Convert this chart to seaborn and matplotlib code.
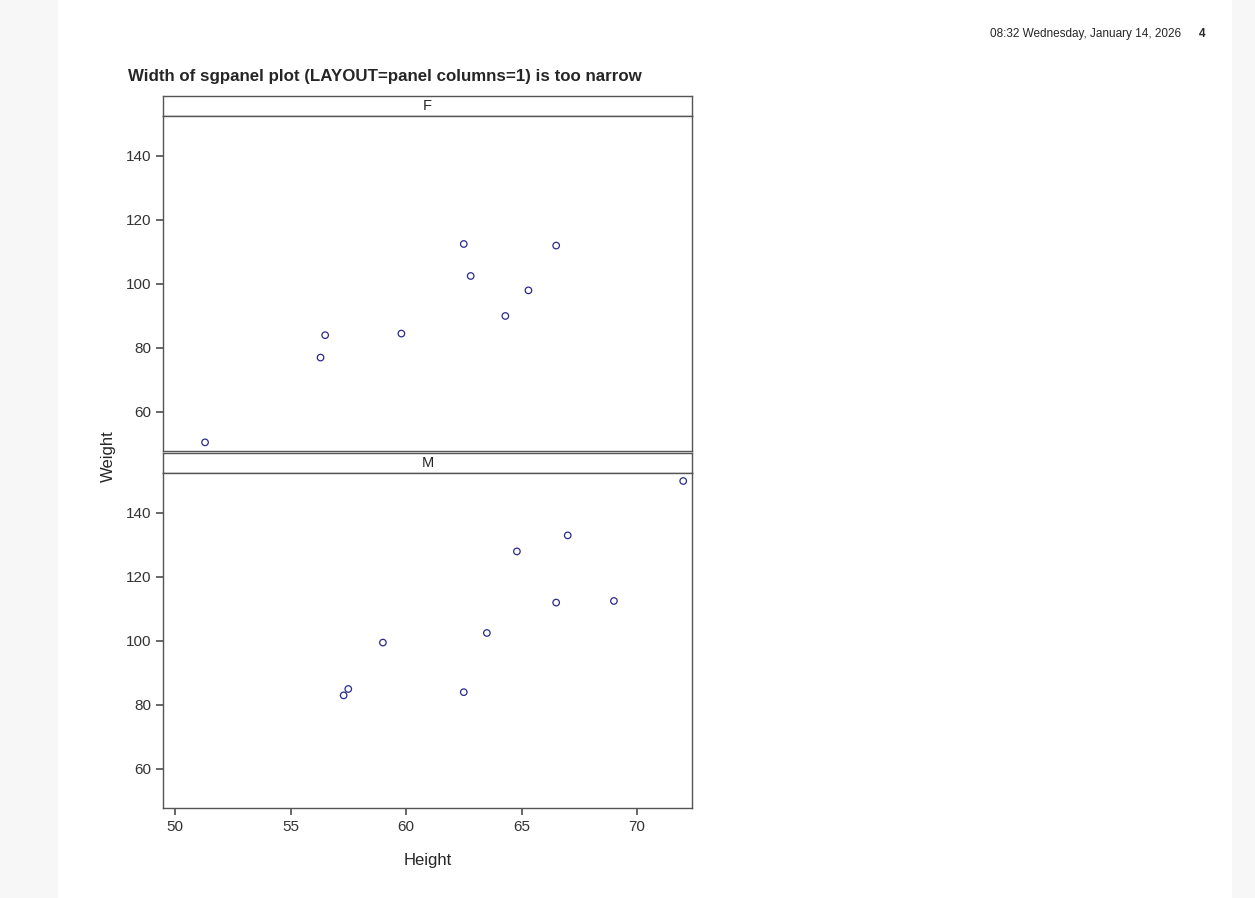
import matplotlib
matplotlib.use("Agg")
import matplotlib.pyplot as plt
import seaborn as sns
import pandas as pd

sex = ["F"]*9 + ["M"]*10
height = [56.5, 65.3, 62.8, 59.8, 62.5, 51.3, 64.3, 56.3, 66.5,
          69.0, 63.5, 57.3, 62.5, 59.0, 72.0, 64.8, 67.0, 57.5, 66.5]
weight = [84.0, 98.0, 102.5, 84.5, 112.5, 50.5, 90.0, 77.0, 112.0,
          112.5, 102.5, 83.0, 84.0, 99.5, 150.0, 128.0, 133.0, 85.0, 112.0]
df = pd.DataFrame({"Sex": sex, "Height": height, "Weight": weight})

sns.set_theme(style="white")
plt.rcParams['font.family'] = ['Liberation Sans', 'DejaVu Sans']
W, H = 1255, 898
fig = plt.figure(figsize=(W/100, H/100), dpi=100)
fig.patch.set_facecolor("#f7f7f7")
page = fig.add_axes([58/W, 0, (1232-58)/W, 1])
page.set_facecolor("white"); page.set_xticks([]); page.set_yticks([])
for s in page.spines.values(): s.set_visible(False)

def fr(x0, y0, x1, y1):
    return [x0/W, 1-y1/H, (x1-x0)/W, (y1-y0)/H]

panels = [("F", 96, 116, 451), ("M", 453, 473, 808)]
for lab, ht, at, ab in panels:
    hax = fig.add_axes(fr(163, ht, 692, at))
    hax.set_xticks([]); hax.set_yticks([])
    for s in hax.spines.values(): s.set_color("#555555"); s.set_linewidth(1)
    hax.text(0.5, 0.5, lab, ha="center", va="center", fontsize=10.5, transform=hax.transAxes)
    ax = fig.add_axes(fr(163, at, 692, ab))
    sns.scatterplot(data=df[df.Sex == lab], x="Height", y="Weight", ax=ax,
                    marker="o", s=22, facecolors="none", edgecolor="#2a2a8c", linewidth=0.9)
    ax.set_xlim(49.48, 72.38); ax.set_ylim(47.8, 152.5)
    ax.set_yticks([60, 80, 100, 120, 140])
    ax.set_ylabel(""); ax.set_xlabel("")
    for s in ax.spines.values(): s.set_color("#555555"); s.set_linewidth(1)
    ax.tick_params(axis="y", left=True, length=5, color="#555555", labelsize=11, labelcolor="#333333")
    if lab == "F":
        ax.set_xticks([])
    else:
        ax.set_xticks([50, 55, 60, 65, 70])
        ax.tick_params(axis="x", bottom=True, length=5, color="#555555", labelsize=11, labelcolor="#333333")
        ax.set_xlabel("Height", fontsize=12, labelpad=14)

fig.text(108/W, 1-456/H, "Weight", rotation=90, ha="center", va="center", fontsize=12)
fig.text(128/W, 1-77/H, "Width of sgpanel plot (LAYOUT=panel columns=1) is too narrow",
         fontsize=12.2, fontweight="bold", va="center", ha="left")
fig.text(1181/W, 1-34/H, "08:32 Wednesday, January 14, 2026", fontsize=8.5, ha="right", va="center")
fig.text(1205/W, 1-34/H, "4", fontsize=8.5, ha="right", va="center", fontweight="bold")
fig.savefig("out.png", dpi=100)
